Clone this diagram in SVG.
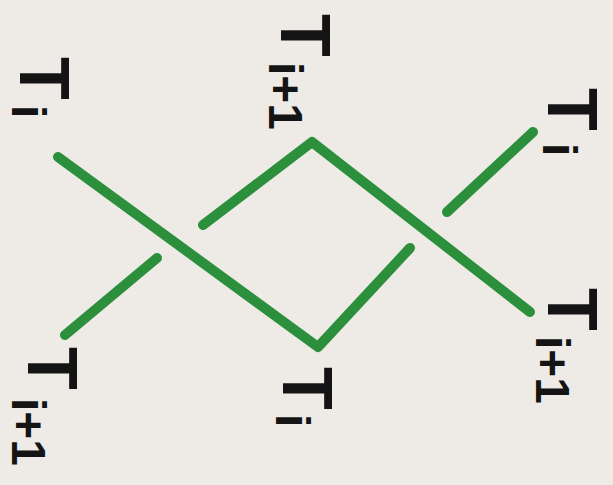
<svg xmlns="http://www.w3.org/2000/svg" width="613" height="485" viewBox="0 0 613 485">
<style>
.s{fill:none;stroke:#2b8f3c;stroke-width:10;stroke-linecap:round;stroke-linejoin:round}
.t{font-family:"Liberation Sans",Arial,sans-serif;font-size:70px;fill:#141414;font-weight:bold}
.sub{font-size:48px}
</style>
<rect width="613" height="485" fill="#eeebe7"/>
<g id="connectors">
<path class="s" d="M58,157 L318,347 L410,248"/>
<path class="s" d="M65,335 L157,258"/>
<path class="s" d="M203,225 L312,142 L530,312"/>
<path class="s" d="M447,212 L533,132"/>
</g>
<g id="label-top-left"><text class="t" transform="translate(20,57) rotate(90)">T<tspan class="sub" x="48" dy="8">i</tspan></text></g>
<g id="label-top-mid"><text class="t" transform="translate(281,14) rotate(90)">T<tspan class="sub" x="48" dy="12">i+1</tspan></text></g>
<g id="label-top-right"><text class="t" transform="translate(548,88) rotate(90)">T<tspan class="sub" x="55" dy="5">i</tspan></text></g>
<g id="label-right"><text class="t" transform="translate(548,288) rotate(90)">T<tspan class="sub" x="48" dy="12">i+1</tspan></text></g>
<g id="label-bottom-mid"><text class="t" transform="translate(283,367) rotate(90)">T<tspan class="sub" x="47" dy="7">i</tspan></text></g>
<g id="label-bottom-left"><text class="t" transform="translate(28,347) rotate(90)">T<tspan class="sub" x="51" dy="16">i+1</tspan></text></g>
</svg>
